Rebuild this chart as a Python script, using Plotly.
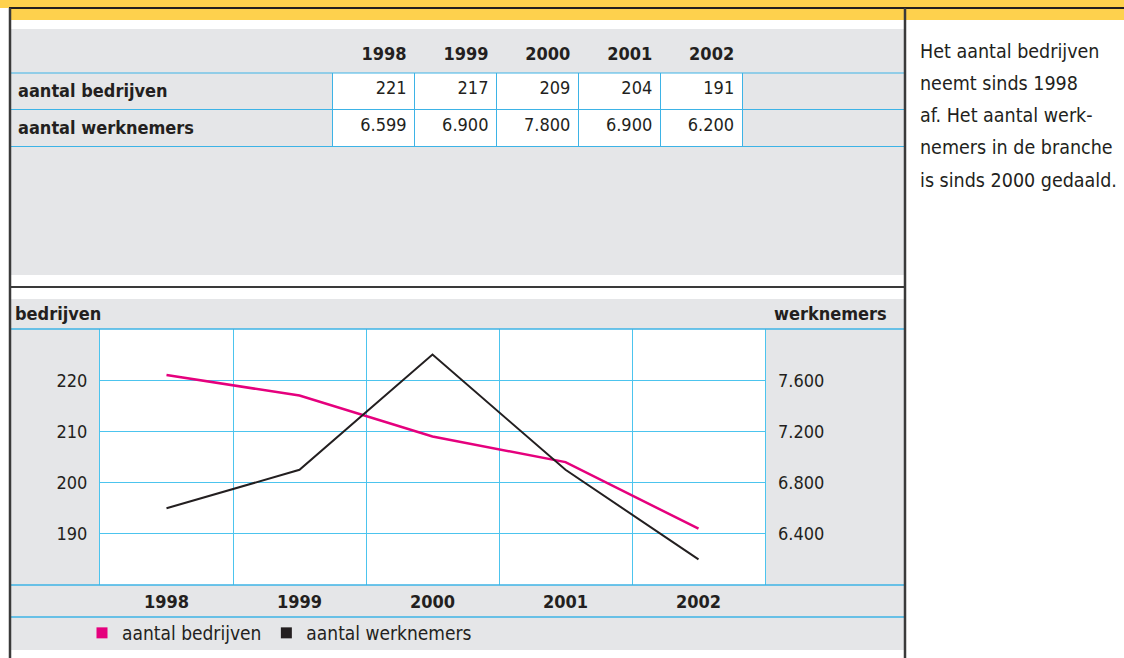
import plotly.graph_objects as go

# data
years = ["1998", "1999", "2000", "2001", "2002"]
bedrijven = [221, 217, 209, 204, 191]
werknemers = [6599, 6900, 7800, 6900, 6200]
row_labels = ["aantal bedrijven", "aantal werknemers"]
left_ticks = [190, 200, 210, 220]
right_ticks = [6400, 6800, 7200, 7600]
side_text = [
    "Het aantal bedrijven",
    "neemt sinds 1998",
    "af. Het aantal werk-",
    "nemers in de branche",
    "is sinds 2000 gedaald.",
]

W, H = 1124, 658
FONT = "DejaVu Sans Condensed, Liberation Sans Narrow, sans-serif"
INK = "#231f20"
PINK = "#e5007d"
GRAY = "#e5e6e8"
BLUE = "#3db3e6"
GRID = "#4cc4ee"
YELLOW = "#fed14d"
DARK = "#3a3a3a"

TABLE_TOP = 35


def px(x):
    return x / W


def py(y):
    return 1 - y / H


def dots(v):
    return f"{v:,}".replace(",", ".")


def hline(y, x0, x1, color, width):
    return dict(type="line", xref="paper", yref="paper", x0=px(x0), x1=px(x1),
                y0=py(y), y1=py(y), line=dict(color=color, width=width))


def vline(x, y0, y1, color, width):
    return dict(type="line", xref="paper", yref="paper", x0=px(x), x1=px(x),
                y0=py(y0), y1=py(y1), line=dict(color=color, width=width))


def box(x0, y0, x1, y1, color):
    return dict(type="rect", xref="paper", yref="paper", x0=px(x0), x1=px(x1),
                y0=py(y1), y1=py(y0), fillcolor=color, line_width=0, layer="below")


fig = go.Figure()

# table
header_vals = [""] + [f"<b>{y}</b>" for y in years] + [""]
cell_vals = ([[f"<b>{l}</b>" for l in row_labels]]
             + [[str(b), dots(w)] for b, w in zip(bedrijven, werknemers)]
             + [["", ""]])
fig.add_trace(go.Table(
    domain=dict(x=[px(10), px(905)], y=[py(180), py(TABLE_TOP)]),
    columnwidth=[323, 82, 82, 82, 82, 82, 163],
    header=dict(values=header_vals, fill_color=GRAY, line_color=GRAY,
                align="right", height=36,
                font=dict(family=FONT, size=18, color=INK)),
    cells=dict(values=cell_vals, fill_color=[GRAY] + ["white"] * 5 + [GRAY],
               line_color=BLUE, align=["left"] + ["right"] * 6, height=36,
               font=dict(family=FONT, size=18, color=INK)),
))

# lines
fig.add_trace(go.Scatter(
    x=years, y=bedrijven, mode="lines", name="aantal bedrijven",
    line=dict(color=PINK, width=2.5), showlegend=False, yaxis="y",
))
fig.add_trace(go.Scatter(
    x=years, y=werknemers, mode="lines", name="aantal werknemers",
    line=dict(color=INK, width=2), showlegend=False, yaxis="y2",
))
# legend swatches
for name, color in [("aantal bedrijven", PINK), ("aantal werknemers", INK)]:
    fig.add_trace(go.Scatter(
        x=[None], y=[None], mode="markers", name=name,
        marker=dict(symbol="square", size=11, color=color),
    ))

shapes = [
    box(0, 0, W, 20, YELLOW),
    box(0, 8, 9, 20, "white"),
    box(10, 29, 905, 275, GRAY),
    box(10, 299, 905, 650, GRAY),
    box(100, 329, 765, 585, "white"),
    hline(TABLE_TOP + 38, 10, 905, BLUE, 1),
    hline(329, 10, 905, BLUE, 1.5),
    hline(585, 10, 905, BLUE, 1.5),
    hline(617, 10, 905, BLUE, 1.5),
    hline(8, 9, W, INK, 2),
    hline(287, 10, 905, DARK, 2),
    vline(10, 8, H, DARK, 2.5),
    vline(905, 8, H, DARK, 2.5),
]

annotations = [
    dict(text="<b>bedrijven</b>", x=px(13), y=py(313), xanchor="left", yanchor="middle"),
    dict(text="<b>werknemers</b>", x=px(889), y=py(313), xanchor="right", yanchor="middle"),
]
for a in annotations:
    a.update(xref="paper", yref="paper", showarrow=False,
             font=dict(family=FONT, size=18, color=INK))
for i, line in enumerate(side_text):
    annotations.append(dict(
        text=line, xref="paper", yref="paper", x=px(918), y=py(52 + 32 * i),
        xanchor="left", yanchor="middle", showarrow=False,
        font=dict(family=FONT, size=19.5, color=INK),
    ))

fig.update_layout(
    width=W, height=H,
    margin=dict(l=0, r=0, t=0, b=0, pad=0),
    paper_bgcolor="white",
    plot_bgcolor="white",
    separators=",.",
    font=dict(family=FONT, color=INK),
    shapes=shapes,
    annotations=annotations,
    xaxis=dict(
        domain=[px(100), px(765)], type="category", tickson="boundaries",
        range=[-0.5, 4.5], automargin=False,
        showgrid=True, gridcolor=GRID, gridwidth=1, ticks="",
        showline=False, zeroline=False,
        tickfont=dict(family=FONT, size=18, color=INK),
        tickprefix="<b>", ticksuffix="</b>", ticklabelstandoff=4,
    ),
    yaxis=dict(
        domain=[py(585), py(329)], range=[180, 230], tickvals=left_ticks,
        automargin=False,
        showgrid=True, gridcolor=GRID, gridwidth=1, zeroline=False,
        showline=True, linecolor=GRID, mirror=True, ticks="",
        tickfont=dict(family=FONT, size=18, color=INK), ticklabelstandoff=8,
    ),
    yaxis2=dict(
        overlaying="y", side="right", anchor="x", range=[6000, 8000],
        automargin=False,
        tickvals=right_ticks, tickformat=",d", showgrid=False, zeroline=False,
        ticks="", tickfont=dict(family=FONT, size=18, color=INK), ticklabelstandoff=12,
    ),
    legend=dict(
        orientation="h", x=px(82), y=py(633), xanchor="left", yanchor="middle",
        bgcolor="rgba(0,0,0,0)", font=dict(family=FONT, size=19, color=INK),
        itemclick=False,
    ),
)

fig.write_html("out.html", config={"displayModeBar": False},
               post_script="document.body.style.margin = '0';")
